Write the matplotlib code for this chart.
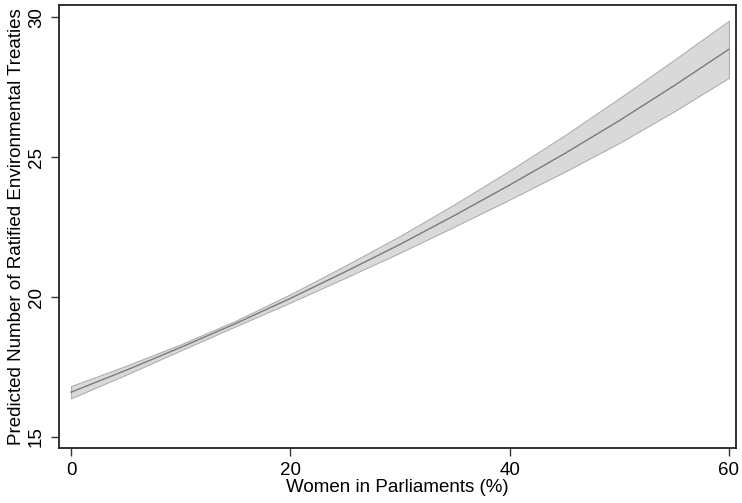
import matplotlib
matplotlib.use("Agg")
import matplotlib.pyplot as plt

women_pct = [0, 5, 10, 15, 20, 25, 30, 35, 40, 45, 50, 55, 60]
predicted = [16.6, 17.38, 18.2, 19.05, 19.95, 20.9, 21.88, 22.92, 24.0, 25.12, 26.3, 27.55, 28.85]
ci_lower = [16.38, 17.22, 18.09, 18.95, 19.8, 20.68, 21.58, 22.52, 23.48, 24.47, 25.5, 26.63, 27.83]
ci_upper = [16.82, 17.54, 18.31, 19.15, 20.1, 21.12, 22.18, 23.32, 24.52, 25.77, 27.1, 28.47, 29.87]
x_ticks = [0, 20, 40, 60]
y_ticks = [15, 20, 25, 30]

plt.rcParams['font.family'] = ['Liberation Sans', 'DejaVu Sans']

fig = plt.figure(figsize=(7.42, 5.03), dpi=100)
ax = fig.add_axes([0.0795, 0.109, 0.9125, 0.881])

ax.fill_between(women_pct, ci_lower, ci_upper, facecolor='#d9d9d9', edgecolor='#a8a8a8', linewidth=0.7)
ax.plot(women_pct, predicted, color='#7a7a7a', linewidth=1.0)

ax.set_xlim(-1.1, 60.65)
ax.set_ylim(14.6, 30.43)
ax.set_xticks(x_ticks)
ax.set_yticks(y_ticks)
ax.set_xticklabels([str(t) for t in x_ticks], fontsize=13.5)
ax.set_yticklabels([str(t) for t in y_ticks], fontsize=13.5, rotation=90, va='center')
ax.tick_params(direction='out', length=6, width=1, color='#333333', pad=4)
for s in ax.spines.values():
    s.set_color('#222222')
    s.set_linewidth(1.3)

ax.set_xlabel('Women in Parliaments (%)', fontsize=13.5, labelpad=0)
ax.set_ylabel('Predicted Number of Ratified Environmental Treaties', fontsize=13.5, labelpad=2)

fig.savefig('out.png', dpi=100)
